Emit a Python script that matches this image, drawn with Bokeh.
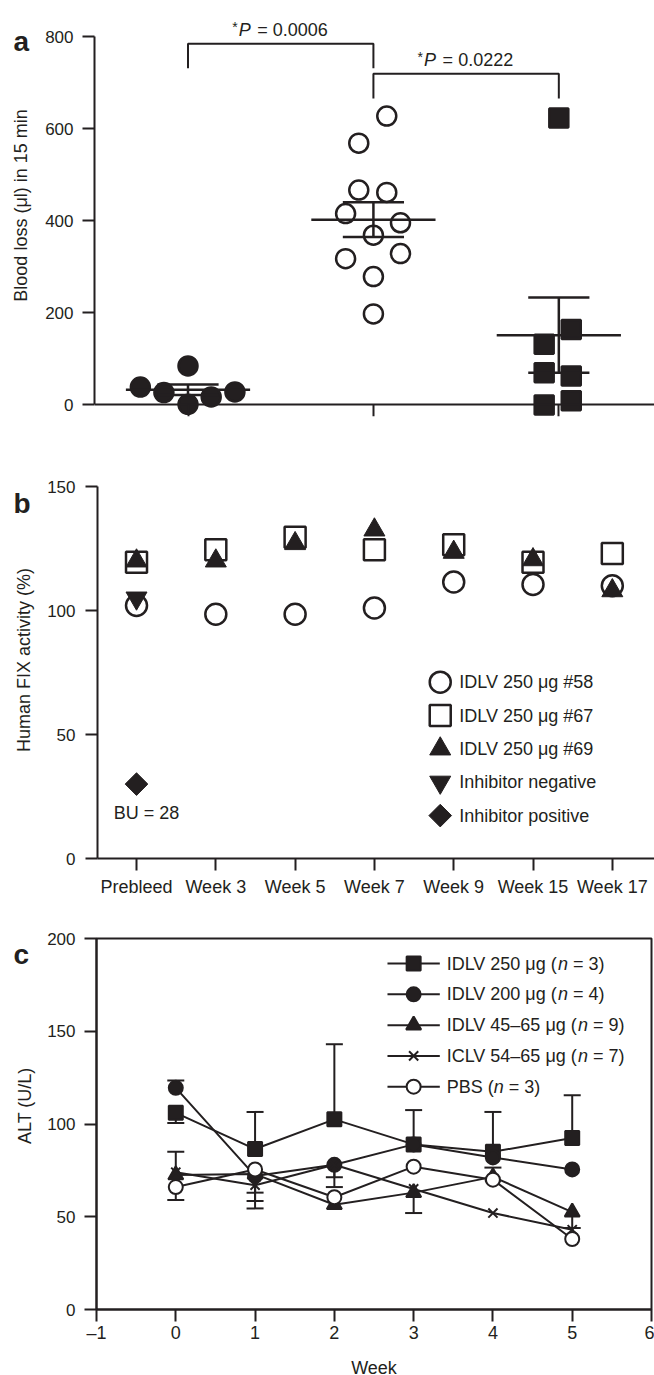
import numpy as np
from bokeh.plotting import figure
from bokeh.layouts import column, row
from bokeh.models import FixedTicker, Range1d
from bokeh.core.properties import value
from bokeh.embed import file_html
from bokeh.resources import INLINE

FONT = "Liberation Sans"
INK = "#231f20"

# ---------------- Panel a data ----------------
groups_a = ["Wild-type", "Hemophilia B", "IDLV-treated"]
wild_type = [39, 27, 85, 1.5, 17.5, 28.5]
wild_type_dx = [-0.257, -0.13, 0.0, 0.0, 0.125, 0.253]
hemophilia_b = [628, 569, 467, 462, 416, 396, 369, 318, 329, 279, 198]
hemophilia_b_dx = [0.072, -0.079, -0.079, 0.072, -0.15, 0.146, 0.0, -0.15, 0.146, 0.0, 0.0]
idlv_treated = [624, 164, 132, 70, 63, 0, 9]
idlv_treated_dx = [0.0, 0.067, -0.079, -0.079, 0.067, -0.079, 0.067]
p_values = ["0.0006", "0.0222"]
bracket_from = [1, 2]
bracket_to = [2, 3]
bracket_top = [785, 720]
bracket_foot = [732, 666]
ticks_a = [0, 200, 400, 600, 800]

# ---------------- Panel b data ----------------
timepoints = ["Prebleed", "Week 3", "Week 5", "Week 7", "Week 9", "Week 15", "Week 17"]
idlv_58 = [102, 98.5, 98.5, 101, 111.5, 110.5, 110]
idlv_67 = [119.5, 124.5, 129.5, 124.5, 126.5, 119.5, 123]
idlv_69 = [120, 120, 127, 132.5, 123.5, 120.5, 108]
inhibitor_negative = [105]
inhibitor_positive = [30]
bu_text = "BU = 28"
labels_b = ["IDLV 250 \u03bcg #58", "IDLV 250 \u03bcg #67", "IDLV 250 \u03bcg #69",
            "Inhibitor negative", "Inhibitor positive"]
ticks_b = [0, 50, 100, 150]

# ---------------- Panel c data ----------------
weeks = [0, 1, 2, 3, 4, 5]
alt_idlv250 = [106, 86.5, 102.5, 89, 85, 92.5]
alt_idlv250_hi = [0, 20, 40.5, 18.5, 21.5, 23]
alt_idlv250_lo = [5.5, 0, 0, 0, 0, 0]
alt_idlv200 = [119.5, 72, 78, 89, 82, 75.5]
alt_idlv200_hi = [4, 0, 0, 0, 0, 0]
alt_idlv200_lo = [0, 0, 12, 0, 0, 0]
alt_idlv45 = [72.5, 73, 56.5, 63, 71.5, 52.5]
alt_idlv45_hi = [0, 0, 0, 0, 5, 0]
alt_idlv45_lo = [13.5, 18.5, 0, 11, 0, 8.5]
alt_iclv = [74, 67, 78, 65, 52, 43]
alt_iclv_hi = [11, 0, 0, 0, 0, 0]
alt_iclv_lo = [0, 8.5, 6.7, 0, 0, 0]
alt_pbs = [66, 75.5, 60.5, 77, 70, 38]
alt_pbs_hi = [0, 0, 0, 0, 0, 0]
alt_pbs_lo = [0, 12.5, 0, 0, 0, 0]
groups_c = ["IDLV 250 \u03bcg", "IDLV 200 \u03bcg", "IDLV 45\u201365 \u03bcg", "ICLV 54\u201365 \u03bcg", "PBS"]
n_c = [3, 4, 9, 7, 3]
ticks_cx = [-1, 0, 1, 2, 3, 4, 5, 6]
ticks_cy = [0, 50, 100, 150, 200]

# character widths (Arial / Liberation Sans metrics, per 1000 em) for inline italic pieces
CW = {" ": 278, "(": 333, ")": 333, "=": 584, "\u2013": 556, "\u03bc": 576, "I": 278, "D": 722,
      "L": 556, "V": 667, "C": 722, "P": 667, "B": 667, "S": 667, "g": 556, "n": 556}


def text_width(s, px):
    return sum(CW.get(ch, 556) for ch in s) * px / 1000.0


def style(p):
    p.grid.visible = False
    p.outline_line_color = None
    for ax in list(p.xaxis) + list(p.yaxis):
        ax.axis_line_width = 2
        ax.axis_line_color = INK
        ax.major_tick_line_width = 2
        ax.major_tick_line_color = INK
        ax.major_tick_in = 0
        ax.major_tick_out = 12
        ax.minor_tick_line_color = None
        ax.major_label_text_font = FONT
        ax.major_label_text_font_size = "18px"
        ax.major_label_text_color = INK


def side_strip(height, letter, letter_base, title, title_x, title_y):
    s = figure(width=40, height=height, x_range=Range1d(0, 40), y_range=Range1d(height, 0),
               output_backend="svg", toolbar_location=None, min_border=0,
               x_axis_type=None, y_axis_type=None)
    s.grid.visible = False
    s.outline_line_color = None
    s.text([13], [letter_base], text=[letter], text_font=value(FONT), text_font_size="28px",
           text_font_style="bold", text_color=INK, text_align="left", text_baseline="alphabetic")
    s.text([title_x], [title_y], text=[title], angle=np.pi / 2, text_font=value(FONT),
           text_font_size="18px", text_color=INK, text_align="center", text_baseline="middle")
    return s


TXT = dict(text_font=value(FONT), text_color=INK, text_align="left", text_baseline="middle")

# ================= Panel a =================
A_TOP, A_FRAME, A_BOTTOM = 18, 398, 46
pa = figure(frame_width=560, frame_height=A_FRAME, x_range=Range1d(0.4957, 3.516),
            y_range=Range1d(-25, 840), output_backend="svg", toolbar_location=None,
            min_border_left=54, min_border_right=0, min_border_top=A_TOP, min_border_bottom=A_BOTTOM)
style(pa)
pa.xaxis.ticker = FixedTicker(ticks=[1, 2, 3])
pa.xaxis.major_label_overrides = {i + 1: g for i, g in enumerate(groups_a)}
pa.xaxis.fixed_location = 0
pa.xaxis.major_label_standoff = 6
pa.yaxis.ticker = FixedTicker(ticks=ticks_a)
pa.yaxis.bounds = (0, 800)
pa.yaxis.major_label_text_font_size = "17px"
pa.yaxis.major_label_standoff = 9

series_a = [(wild_type, wild_type_dx, "circle", INK), (hemophilia_b, hemophilia_b_dx, "circle", "white"),
            (idlv_treated, idlv_treated_dx, "square", INK)]
for k, (vals, dx, mk, fill) in enumerate(series_a):
    c = k + 1
    xs = [c + d for d in dx]
    pa.scatter(xs, vals, marker=mk, size=19, fill_color=fill, line_color=INK, line_width=2.5)
    arr = np.asarray(vals, dtype=float)
    m = arr.mean()
    s = arr.std(ddof=1) / np.sqrt(len(arr))
    pa.segment(x0=[c - 0.335, c - 0.165, c - 0.165, c], y0=[m, m + s, m - s, m - s],
               x1=[c + 0.335, c + 0.165, c + 0.165, c], y1=[m, m + s, m - s, m + s],
               line_color=INK, line_width=2.5)

for x0, x1, top, foot, pv in zip(bracket_from, bracket_to, bracket_top, bracket_foot, p_values):
    pa.line([x0, x0, x1, x1], [foot, top, top, foot], line_color=INK, line_width=2)
    xc = (x0 + x1) / 2
    pa.text([xc], [top], text=["*"], x_offset=-48.5, y_offset=-17, text_font_size="14px", **TXT)
    pa.text([xc], [top], text=["P"], x_offset=-42, y_offset=-14, text_font_size="18px",
            text_font_style="italic", **TXT)
    pa.text([xc], [top], text=["= " + pv], x_offset=-23.5, y_offset=-14, text_font_size="18px", **TXT)

A_H = A_TOP + A_FRAME + A_BOTTOM
sa = side_strip(A_H, "a", 27, "Blood loss (\u03bcl) in 15 min", 20, A_TOP + A_FRAME / 2)

# ================= Panel b =================
B_TOP, B_FRAME, B_BOTTOM = 24, 372, 54
pb = figure(frame_width=557, frame_height=B_FRAME, x_range=Range1d(-0.492, 6.532),
            y_range=Range1d(0, 150), output_backend="svg", toolbar_location=None,
            min_border_left=57, min_border_right=0, min_border_top=B_TOP, min_border_bottom=B_BOTTOM)
style(pb)
xb = list(range(len(timepoints)))
pb.xaxis.ticker = FixedTicker(ticks=xb)
pb.xaxis.major_label_overrides = {i: t for i, t in enumerate(timepoints)}
pb.xaxis.major_label_standoff = 6
pb.yaxis.ticker = FixedTicker(ticks=ticks_b)
pb.yaxis.major_label_text_font_size = "17px"
pb.yaxis.major_label_standoff = 10

marker_b = [
    dict(marker="circle", size=21, fill_color="white", line_width=2.5),
    dict(marker="square", size=21, fill_color="white", line_width=2.5),
    dict(marker="triangle", size=21, fill_color=INK, line_width=1),
    dict(marker="inverted_triangle", size=21, fill_color=INK, line_width=1),
    dict(marker="square", size=16, angle=np.pi / 4, fill_color=INK, line_width=1),
]
series_b = [idlv_58, idlv_67, idlv_69, inhibitor_negative, inhibitor_positive]
for ys, st in zip(series_b, marker_b):
    pb.scatter(xb[:len(ys)], ys, line_color=INK, **st)
pb.text(xb[:1], inhibitor_positive, text=[bu_text], x_offset=10, y_offset=29, text_font_size="18px",
        **dict(TXT, text_align="center"))

# legend (drawn with the same marker styles)
LEG_B_X, LEG_B_Y0, LEG_B_DY = 3.83, 71.1, -13.45
for i, (lab, st) in enumerate(zip(labels_b, marker_b)):
    yy = LEG_B_Y0 + i * LEG_B_DY
    pb.scatter([LEG_B_X], [yy], line_color=INK, **st)
    pb.text([LEG_B_X], [yy], text=[lab], x_offset=19, text_font_size="18px", **TXT)

B_H = B_TOP + B_FRAME + B_BOTTOM
sb = side_strip(B_H, "b", 21, "Human FIX activity (%)", 23, B_TOP + B_FRAME / 2)

# ================= Panel c =================
C_TOP, C_FRAME, C_BOTTOM = 26, 371, 66
pc = figure(frame_width=555, frame_height=C_FRAME, x_range=Range1d(-1, 6), y_range=Range1d(0, 200),
            output_backend="svg", toolbar_location=None,
            min_border_left=56, min_border_right=3, min_border_top=C_TOP, min_border_bottom=C_BOTTOM)
style(pc)
pc.outline_line_color = INK
pc.outline_line_width = 2
pc.xaxis.ticker = FixedTicker(ticks=ticks_cx)
pc.xaxis.major_label_overrides = {-1: "\u20131"}
pc.xaxis.major_label_standoff = 1
pc.xaxis.axis_label = "Week"
pc.xaxis.axis_label_standoff = 12
pc.xaxis.axis_label_text_font = FONT
pc.xaxis.axis_label_text_font_size = "18px"
pc.xaxis.axis_label_text_font_style = "normal"
pc.xaxis.axis_label_text_color = INK
pc.yaxis.ticker = FixedTicker(ticks=ticks_cy)
pc.yaxis.major_label_text_font_size = "17px"
pc.yaxis.major_label_standoff = 9

series_c = [
    (alt_idlv250, alt_idlv250_hi, alt_idlv250_lo, dict(marker="square", size=14, fill_color=INK)),
    (alt_idlv200, alt_idlv200_hi, alt_idlv200_lo, dict(marker="circle", size=14, fill_color=INK)),
    (alt_idlv45, alt_idlv45_hi, alt_idlv45_lo, dict(marker="triangle", size=15, fill_color=INK)),
    (alt_iclv, alt_iclv_hi, alt_iclv_lo, dict(marker="x", size=13, fill_color=INK)),
    (alt_pbs, alt_pbs_hi, alt_pbs_lo, dict(marker="circle", size=14, fill_color="white")),
]
for ys, hi, lo, st in series_c:
    pc.line(weeks, ys, line_color=INK, line_width=2)
for ys, hi, lo, st in series_c:
    top = [y + h for y, h in zip(ys, hi)]
    bot = [y - l for y, l in zip(ys, lo)]
    pc.segment(x0=weeks, y0=bot, x1=weeks, y1=top, line_color=INK, line_width=2)
    cx = [w for w, h in zip(weeks, hi) if h > 0] + [w for w, l in zip(weeks, lo) if l > 0]
    cy = [t for t, h in zip(top, hi) if h > 0] + [b for b, l in zip(bot, lo) if l > 0]
    pc.scatter(cx, cy, marker="dash", size=17, line_color=INK, line_width=2)
for ys, hi, lo, st in series_c:
    pc.scatter(weeks, ys, line_color=INK, line_width=2, **st)

# legend: line + marker keys, label with italic n
LEG_C_X, LEG_C_HALF, LEG_C_Y0, LEG_C_DY = 3.0, 0.33, 186.5, -16.6
for i, (g, n, (ys, hi, lo, st)) in enumerate(zip(groups_c, n_c, series_c)):
    yy = LEG_C_Y0 + i * LEG_C_DY
    pc.line([LEG_C_X - LEG_C_HALF, LEG_C_X + LEG_C_HALF], [yy, yy], line_color=INK, line_width=2)
    pc.scatter([LEG_C_X], [yy], line_color=INK, line_width=2, **st)
    p1 = g + " ("
    off = 33
    pc.text([LEG_C_X], [yy], text=[p1], x_offset=off, text_font_size="18px", **TXT)
    off2 = off + text_width(p1, 18)
    pc.text([LEG_C_X], [yy], text=["n"], x_offset=off2, text_font_size="18px",
            text_font_style="italic", **TXT)
    off3 = off2 + text_width("n ", 18)
    pc.text([LEG_C_X], [yy], text=["= %d)" % n], x_offset=off3, text_font_size="18px", **TXT)

C_H = C_TOP + C_FRAME + C_BOTTOM
sc = side_strip(C_H, "c", 20, "ALT (U/L)", 24, C_TOP + C_FRAME / 2)

layout = column(row(sa, pa, spacing=0), row(sb, pb, spacing=0), row(sc, pc, spacing=0), spacing=0)
open("out.html", "w").write(file_html(layout, INLINE, "chart"))
